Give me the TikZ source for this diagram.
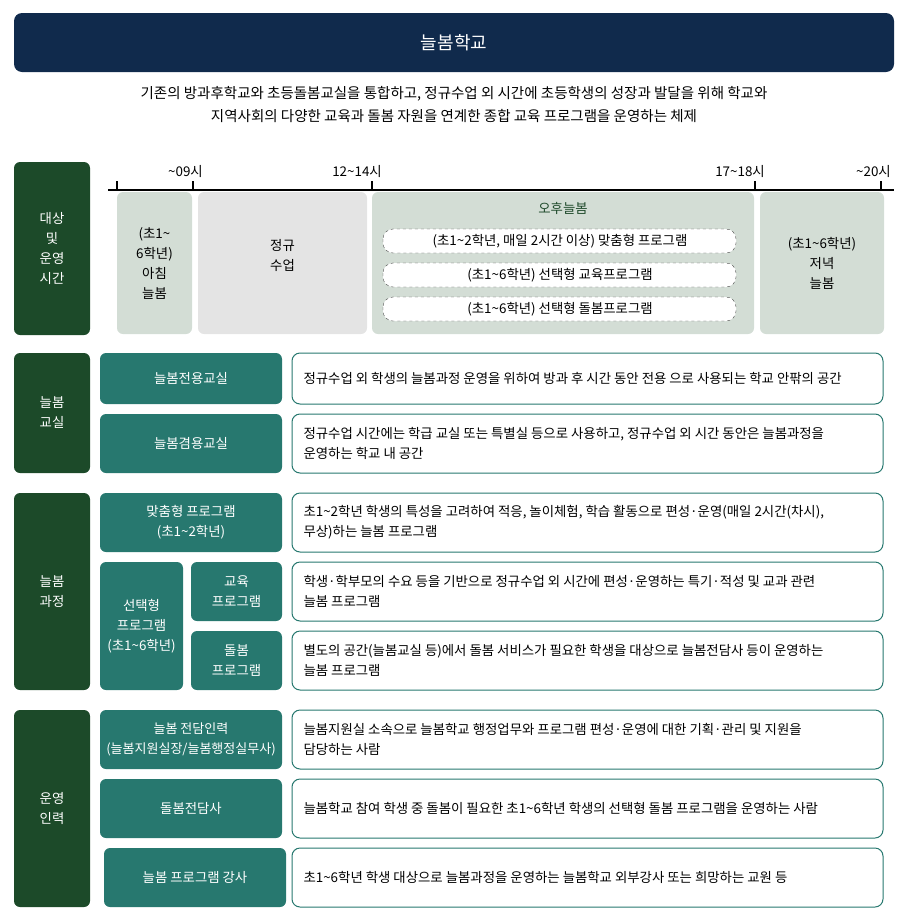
\documentclass[tikz,border=0pt]{standalone}
\usepackage{fontspec}
\setmainfont{Noto Sans CJK KR}
\usetikzlibrary{positioning}
\definecolor{navy}{HTML}{102A4C}
\definecolor{dgreen}{HTML}{1C4A29}
\definecolor{tealc}{HTML}{27786F}
\definecolor{lgreen}{HTML}{D3DDD5}
\definecolor{lgray}{HTML}{E4E4E4}
\definecolor{ltxt}{HTML}{1F4A2B}

\begin{document}
\begin{tikzpicture}[x=1pt,y=-1pt,font=\fontsize{13.4}{20}\selectfont]
    \tikzset{sect/.style={fill=dgreen,rounded corners=6pt},
      tealbox/.style={fill=tealc,rounded corners=6pt},
      descbox/.style={draw=tealc,line width=1pt,fill=white,rounded corners=8pt},
      prog/.style={draw=black!70,dashed,fill=white,rounded corners=10pt}}
    \useasboundingbox (0,0) rectangle (909,924);
    % title
    \fill[navy,rounded corners=8pt] (14,13) rectangle (894,72);
    \node[text=white,font=\fontsize{18}{20}\selectfont] (title) at (454,43) {늘봄학교};
    \node[align=center,font=\fontsize{14.5}{23}\selectfont] (intro) at (454,105)
      {기존의 방과후학교와 초등돌봄교실을 통합하고, 정규수업 외 시간에 초등학생의 성장과 발달을 위해 학교와\\
       지역사회의 다양한 교육과 돌봄 자원을 연계한 종합 교육 프로그램을 운영하는 체제};
    % section 1
    \fill[sect] (14,162) rectangle (90,335);
    \node[text=white,align=center] (s1) at (52,248) {대상\\및\\운영\\시간};
    \draw[line width=1.5pt] (108,190) -- (894,190);
    \foreach \x/\t in {193/{\textasciitilde09시},372/12\textasciitilde14시,755/17\textasciitilde18시,881/{\textasciitilde20시}}
      {\draw[line width=1.2pt] (\x,181) -- (\x,190);
       \node[anchor=east,inner sep=0pt] at (\x+10,171) {\t};}
    \draw[line width=1.2pt] (117,181) -- (117,190);
    \fill[lgreen,rounded corners=6pt] (117,192) rectangle (192,334);
    \node[align=center] (morn) at (154.5,263) {(초1\textasciitilde\\6학년)\\아침\\늘봄};
    \fill[lgray,rounded corners=6pt] (198,192) rectangle (367,334);
    \node[align=center] (reg) at (282.5,255) {정규\\수업};
    \fill[lgreen,rounded corners=6pt] (372,192) rectangle (754,334);
    \node[text=ltxt] (pm) at (563,208) {오후늘봄};
    \fill[lgreen,rounded corners=6pt] (760,192) rectangle (884,334);
    \node[align=center] (eve) at (822,263) {(초1\textasciitilde6학년)\\저녁\\늘봄};
    \foreach \y/\t in {241/{(초1\textasciitilde2학년, 매일 2시간 이상) 맞춤형 프로그램},
                       275/{(초1\textasciitilde6학년) 선택형 교육프로그램},
                       309/{(초1\textasciitilde6학년) 선택형 돌봄프로그램}}
      {\draw[prog] (383,\y-12) rectangle (736,\y+12);
       \node at (560,\y) {\t};}
    % section 2
    \fill[sect] (14,353) rectangle (90,473);
    \node[text=white,align=center] (s2) at (52,413) {늘봄\\교실};
    \fill[tealbox] (100,353) rectangle (282,404);
    \node[text=white] (c1) at (191,378.5) {늘봄전용교실};
    \draw[descbox] (292,353) rectangle (883,404);
    \node[anchor=west] (d1) at (300,378.5) {정규수업 외 학생의 늘봄과정 운영을 위하여 방과 후 시간 동안 전용 으로 사용되는 학교 안팎의 공간};
    \fill[tealbox] (100,414) rectangle (282,473);
    \node[text=white] (c2) at (191,443.5) {늘봄겸용교실};
    \draw[descbox] (292,414) rectangle (883,473);
    \node[anchor=west,align=left] (d2) at (300,443.5) {정규수업 시간에는 학급 교실 또는 특별실 등으로 사용하고, 정규수업 외 시간 동안은 늘봄과정을\\운영하는 학교 내 공간};
    % section 3
    \fill[sect] (14,493) rectangle (90,690);
    \node[text=white,align=center] (s3) at (52,591.5) {늘봄\\과정};
    \fill[tealbox] (100,493) rectangle (282,552);
    \node[text=white,align=center] (p1) at (191,522.5) {맞춤형 프로그램\\(초1\textasciitilde2학년)};
    \fill[tealbox] (100,562) rectangle (183,690);
    \node[text=white,align=center] (p2) at (141.5,626) {선택형\\프로그램\\(초1\textasciitilde6학년)};
    \fill[tealbox] (191,562) rectangle (282,621);
    \node[text=white,align=center] (p3) at (236.5,591.5) {교육\\프로그램};
    \fill[tealbox] (191,631) rectangle (282,690);
    \node[text=white,align=center] (p4) at (236.5,660.5) {돌봄\\프로그램};
    \draw[descbox] (292,493) rectangle (883,552);
    \node[anchor=west,align=left] (d3) at (300,522.5) {초1\textasciitilde2학년 학생의 특성을 고려하여 적응, 놀이체험, 학습 활동으로 편성·운영(매일 2시간(차시),\\무상)하는 늘봄 프로그램};
    \draw[descbox] (292,562) rectangle (883,621);
    \node[anchor=west,align=left] (d4) at (300,591.5) {학생·학부모의 수요 등을 기반으로 정규수업 외 시간에 편성·운영하는 특기·적성 및 교과 관련\\늘봄 프로그램};
    \draw[descbox] (292,631) rectangle (883,690);
    \node[anchor=west,align=left] (d5) at (300,660.5) {별도의 공간(늘봄교실 등)에서 돌봄 서비스가 필요한 학생을 대상으로 늘봄전담사 등이 운영하는\\늘봄 프로그램};
    % section 4
    \fill[sect] (14,710) rectangle (90,907);
    \node[text=white,align=center] (s4) at (52,808.5) {운영\\인력};
    \fill[tealbox] (100,710) rectangle (282,769);
    \node[text=white,align=center,font=\fontsize{13}{20}\selectfont] (r1) at (191,739.5) {늘봄 전담인력\\(늘봄지원실장/늘봄행정실무사)};
    \fill[tealbox] (100,779) rectangle (282,838);
    \node[text=white] (r2) at (191,808.5) {돌봄전담사};
    \fill[tealbox] (104,848) rectangle (286,907);
    \node[text=white] (r3) at (195,877.5) {늘봄 프로그램 강사};
    \draw[descbox] (292,710) rectangle (883,769);
    \node[anchor=west,align=left] (d6) at (300,739.5) {늘봄지원실 소속으로 늘봄학교 행정업무와 프로그램 편성·운영에 대한 기획·관리 및 지원을\\담당하는 사람};
    \draw[descbox] (292,779) rectangle (883,838);
    \node[anchor=west] (d7) at (300,808.5) {늘봄학교 참여 학생 중 돌봄이 필요한 초1\textasciitilde6학년 학생의 선택형 돌봄 프로그램을 운영하는 사람};
    \draw[descbox] (292,848) rectangle (883,907);
    \node[anchor=west] (d8) at (300,877.5) {초1\textasciitilde6학년 학생 대상으로 늘봄과정을 운영하는 늘봄학교 외부강사 또는 희망하는 교원 등};
\end{tikzpicture}
\end{document}
